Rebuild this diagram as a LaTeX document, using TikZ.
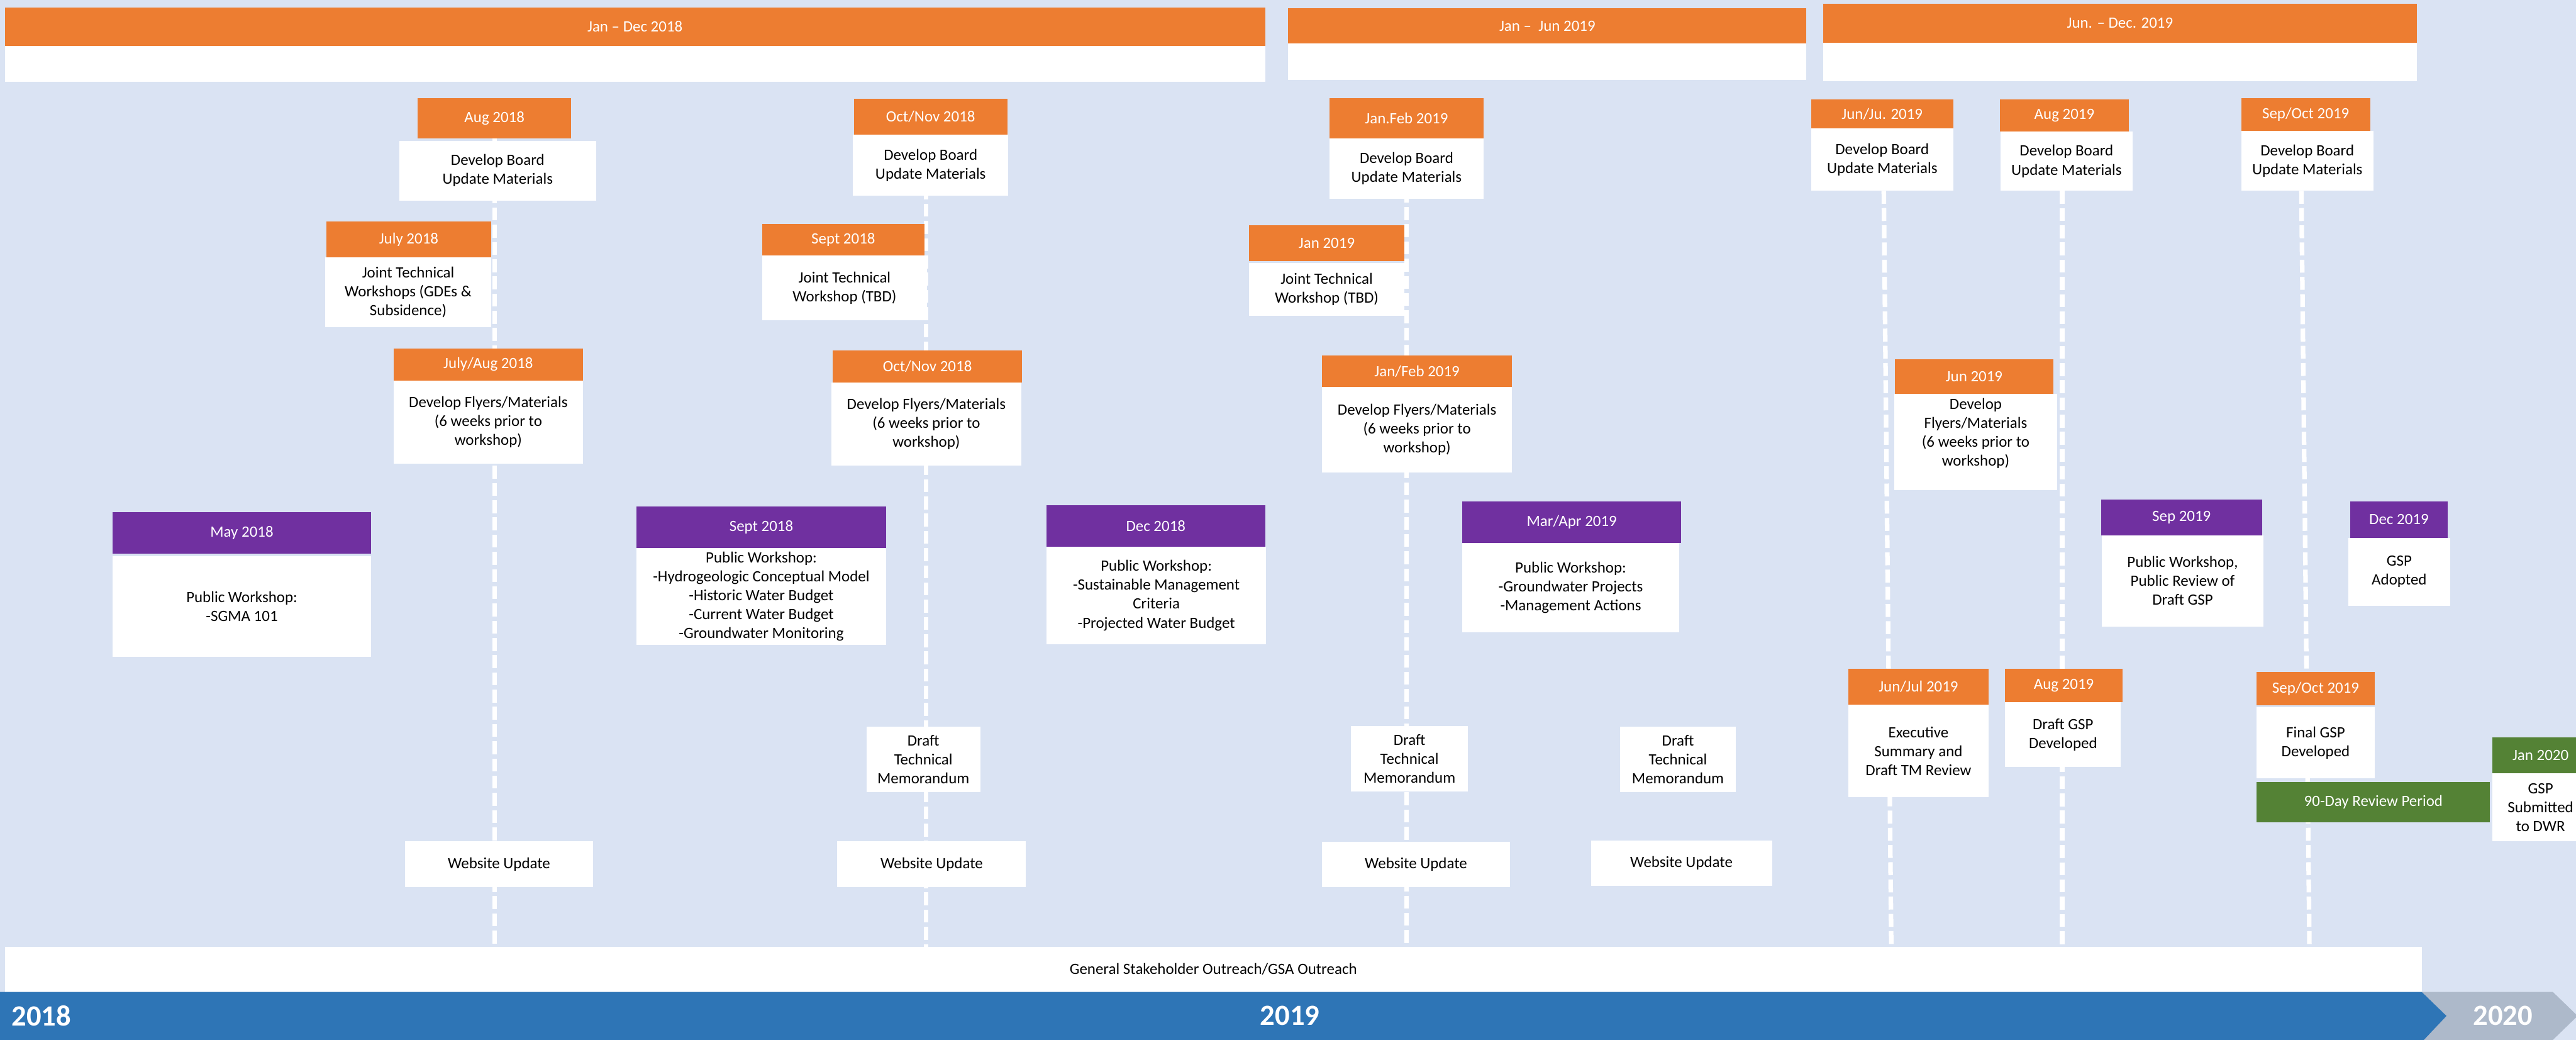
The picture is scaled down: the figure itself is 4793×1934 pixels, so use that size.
\documentclass[tikz,border=0pt]{standalone}
\usepackage{fontspec}
\setmainfont{Carlito}
\definecolor{bgblue}{HTML}{DAE3F3}
\definecolor{orng}{HTML}{ED7D31}
\definecolor{purp}{HTML}{7030A0}
\definecolor{barblue}{HTML}{2E75B6}
\definecolor{grn}{HTML}{548235}
\definecolor{greyc}{HTML}{ADB9CA}
\pgfdeclarelayer{bglayer}
\pgfdeclarelayer{linelayer}
\pgfsetlayers{bglayer,linelayer,main}
\newcommand{\mkbox}[7]{%
  \pgfmathsetmacro\mybw{(#4-#2)*0.01}%
  \pgfmathsetmacro\mybh{(#5-#3)*0.01}%
  \node[#6, minimum width=\mybw cm, minimum height=\mybh cm] (#1) at ({(#2+#4)/2},{(#3+#5)/2}) {#7};%
}
\begin{document}
\begin{tikzpicture}[x=0.01cm,y=-0.01cm,
  basebox/.style={inner sep=0pt, outer sep=0pt, align=center, font=\fontsize{8.3}{10}\selectfont},
  ohdr/.style={basebox, fill=orng, text=white},
  phdr/.style={basebox, fill=purp, text=white},
  ghdr/.style={basebox, fill=grn, text=white},
  wbody/.style={basebox, fill=white, text=black},
  dline/.style={draw=white, line width=0.085cm, dash pattern=on 0.24cm off 0.08cm},
  yeartxt/.style={text=white, font=\fontsize{15.5}{18}\selectfont\bfseries, inner sep=0pt}
]
\useasboundingbox (0,0) rectangle (4793,1934);
\clip (0,0) rectangle (4793,1934);
\begin{pgfonlayer}{bglayer}
\fill[bgblue] (0,0) rectangle (4793,1934);
\end{pgfonlayer}

% top period bars
\mkbox{tbah}{9}{14}{2354}{85}{ohdr}{Jan – Dec 2018}
\mkbox{tbab}{9}{85}{2354}{152}{wbody}{}
\mkbox{tbbh}{2397}{15}{3361}{81}{ohdr}{Jan –\ \ Jun 2019}
\mkbox{tbbb}{2397}{81}{3361}{149}{wbody}{}
\mkbox{tbch}{3392}{7}{4497}{79}{ohdr}{Jun. – Dec. 2019}
\mkbox{tbcb}{3392}{79}{4497}{151}{wbody}{}

% board update row
\mkbox{augAh}{777}{183}{1063}{258}{ohdr}{Aug 2018}
\mkbox{augAb}{743}{262}{1109}{373}{wbody}{Develop Board\\Update Materials}
\mkbox{onAh}{1589}{184}{1874}{251}{ohdr}{Oct/Nov 2018}
\mkbox{onAb}{1587}{251}{1876}{364}{wbody}{Develop Board\\Update Materials}
\mkbox{jfBh}{2474}{182}{2760}{257}{ohdr}{Jan.Feb 2019}
\mkbox{jfBb}{2474}{257}{2760}{370}{wbody}{Develop Board\\Update Materials}
\mkbox{jjBh}{3370}{185}{3634}{239}{ohdr}{Jun/Ju. 2019}
\mkbox{jjBb}{3370}{239}{3634}{355}{wbody}{Develop Board\\Update Materials}
\mkbox{auBh}{3721}{185}{3961}{245}{ohdr}{Aug 2019}
\mkbox{auBb}{3722}{245}{3968}{355}{wbody}{Develop Board\\Update Materials}
\mkbox{soBh}{4170}{182}{4410}{243}{ohdr}{Sep/Oct 2019}
\mkbox{soBb}{4170}{243}{4416}{355}{wbody}{Develop Board\\Update Materials}

% dashed lines
\coordinate (l2t) at (1723,251);
\coordinate (l4t) at (3505,355);
\coordinate (l4b) at (3519,1761);
\coordinate (l5t) at (3837,355);
\coordinate (l6t) at (4282,355);
\coordinate (l6b) at (4297,1761);
\begin{pgfonlayer}{linelayer}
\draw[dline] (augAh.south) -- (augAh.south |- 0,1761);
\draw[dline] (l2t) -- (l2t |- 0,1761);
\draw[dline] (jfBh.south) -- (jfBh.south |- 0,1761);
\draw[dline] (l4t) -- (l4b);
\draw[dline] (l5t) -- (l5t |- 0,1761);
\draw[dline] (l6t) -- (l6b);
\end{pgfonlayer}

% joint technical row
\mkbox{jlAh}{607}{412}{914}{479}{ohdr}{July 2018}
\mkbox{jlAb}{605}{479}{914}{608}{wbody}{Joint Technical\\Workshops (GDEs \&\\Subsidence)}
\mkbox{spAh}{1418}{417}{1720}{475}{ohdr}{Sept 2018}
\mkbox{spAb}{1418}{475}{1725}{596}{wbody}{Joint Technical\\Workshop (TBD)}
\mkbox{jnBh}{2324}{419}{2613}{486}{ohdr}{Jan 2019}
\mkbox{jnBb}{2324}{489}{2613}{587}{wbody}{Joint Technical\\Workshop (TBD)}

% flyers row
\mkbox{jaAh}{732}{648}{1085}{708}{ohdr}{July/Aug 2018}
\mkbox{jaAb}{732}{708}{1085}{862}{wbody}{Develop Flyers/Materials\\(6 weeks prior to\\workshop)}
\mkbox{onFh}{1549}{652}{1902}{712}{ohdr}{Oct/Nov 2018}
\mkbox{onFb}{1547}{712}{1900}{866}{wbody}{Develop Flyers/Materials\\(6 weeks prior to\\workshop)}
\mkbox{jfFh}{2460}{661}{2813}{720}{ohdr}{Jan/Feb 2019}
\mkbox{jfFb}{2460}{720}{2813}{879}{wbody}{Develop Flyers/Materials\\(6 weeks prior to\\workshop)}
\mkbox{juFh}{3526}{668}{3820}{733}{ohdr}{Jun 2019}
\mkbox{juFb}{3524}{733}{3828}{911}{wbody}{}
\node[basebox] (juFt) at (3676,806) {Develop\\Flyers/Materials\\(6 weeks prior to\\workshop)};

% public workshop row
\mkbox{myAh}{210}{953}{690}{1030}{phdr}{May 2018}
\mkbox{myAb}{210}{1035}{690}{1222}{wbody}{Public Workshop:\\-SGMA 101}
\mkbox{spPh}{1184}{942}{1649}{1019}{phdr}{Sept 2018}
\mkbox{spPb}{1184}{1019}{1649}{1199}{wbody}{Public Workshop:\\-Hydrogeologic Conceptual Model\\-Historic Water Budget\\-Current Water Budget\\-Groundwater Monitoring}
\mkbox{dcAh}{1947}{940}{2354}{1017}{phdr}{Dec 2018}
\mkbox{dcAb}{1947}{1017}{2356}{1198}{wbody}{Public Workshop:\\-Sustainable Management\\Criteria\\-Projected Water Budget}
\mkbox{maBh}{2721}{933}{3128}{1010}{phdr}{Mar/Apr 2019}
\mkbox{maBb}{2721}{1010}{3124}{1176}{wbody}{Public Workshop:\\-Groundwater Projects\\-Management Actions}
\mkbox{spBh}{3909}{929}{4209}{996}{phdr}{Sep 2019}
\mkbox{spBb}{3911}{996}{4211}{1165}{wbody}{Public Workshop,\\Public Review of\\Draft GSP}
\mkbox{dcBh}{4373}{933}{4554}{1000}{phdr}{Dec 2019}
\mkbox{dcBb}{4369}{1000}{4559}{1127}{wbody}{GSP\\Adopted}

% draft technical memoranda
\mkbox{dtA}{1612}{1352}{1824}{1473}{wbody}{Draft\\Technical\\Memorandum}
\mkbox{dtB}{2514}{1350}{2731}{1472}{wbody}{Draft\\Technical\\Memorandum}
\mkbox{dtC}{3014}{1352}{3230}{1473}{wbody}{Draft\\Technical\\Memorandum}

% late 2019
\mkbox{jlBh}{3439}{1244}{3700}{1311}{ohdr}{Jun/Jul 2019}
\mkbox{jlBb}{3439}{1311}{3700}{1483}{wbody}{Executive\\Summary and\\Draft TM Review}
\mkbox{auDh}{3731}{1244}{3949}{1306}{ohdr}{Aug 2019}
\mkbox{auDb}{3731}{1306}{3946}{1427}{wbody}{Draft GSP\\Developed}
\mkbox{soFh}{4199}{1250}{4418}{1312}{ohdr}{Sep/Oct 2019}
\mkbox{soFb}{4199}{1315}{4418}{1448}{wbody}{Final GSP\\Developed}
\mkbox{rev}{4199}{1455}{4633}{1529}{ghdr}{90-Day Review Period}
\mkbox{jnCh}{4637}{1371}{4817}{1438}{ghdr}{Jan 2020}
\mkbox{jnCb}{4637}{1438}{4817}{1565}{wbody}{GSP\\Submitted\\to DWR}

% website updates
\mkbox{wuA}{753}{1565}{1104}{1650}{wbody}{Website Update}
\mkbox{wuB}{1558}{1565}{1909}{1650}{wbody}{Website Update}
\mkbox{wuC}{2460}{1566}{2809}{1650}{wbody}{Website Update}
\mkbox{wuD}{2960}{1563}{3297}{1648}{wbody}{Website Update}

% general outreach bar
\mkbox{gso}{9}{1761}{4506}{1845}{wbody}{General Stakeholder Outreach/GSA Outreach}

% year arrow
\fill[greyc] (4506,1845) -- (4750,1845) -- (4796,1889.5) -- (4750,1934) -- (4510,1934) -- (4552,1889.5) -- cycle;
\fill[barblue] (0,1845) -- (4506,1845) -- (4552,1889.5) -- (4510,1934) -- (0,1934) -- cycle;
\node[yeartxt, anchor=west] (y18) at (21,1889.5) {2018};
\node[yeartxt] (y19) at (2400,1889.5) {2019};
\node[yeartxt] (y20) at (4657,1889.5) {2020};
\end{tikzpicture}
\end{document}
